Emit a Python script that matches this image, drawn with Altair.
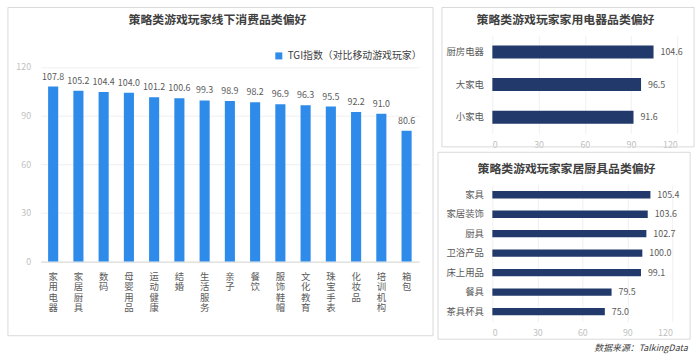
import altair as alt
import pandas as pd

FONT = "Noto Sans CJK SC"

offline_cats = ["家用电器", "家居厨具", "数码", "母婴用品", "运动健康", "结婚", "生活服务", "亲子",
                "餐饮", "服饰鞋帽", "文化教育", "珠宝手表", "化妆品", "培训机构", "箱包"]
offline_vals = [107.8, 105.2, 104.4, 104.0, 101.2, 100.6, 99.3, 98.9, 98.2, 96.9, 96.3, 95.5, 92.2, 91.0, 80.6]
appliance_cats = ["厨房电器", "大家电", "小家电"]
appliance_vals = [104.6, 96.5, 91.6]
home_cats = ["家具", "家居装饰", "厨具", "卫浴产品", "床上用品", "餐具", "茶具杯具"]
home_vals = [105.4, 103.6, 102.7, 100.0, 99.1, 79.5, 75.0]
axis_ticks = [0, 30, 60, 90, 120]

series_name = "TGI指数（对比移动游戏玩家）"
title1 = "策略类游戏玩家线下消费品类偏好"
title2 = "策略类游戏玩家家用电器品类偏好"
title3 = "策略类游戏玩家家居厨具品类偏好"
source = "数据来源：TalkingData"

BLUE = "#2E8BEA"
NAVY = "#22396B"
TXT = "#404040"
CAT = "#595959"
TICK = "#BFBFBF"


def box(x0, x1, y0, y1):
    return alt.Chart(pd.DataFrame({"k": [0]})).mark_rect(
        fillOpacity=0, stroke="#D9D9D9", strokeWidth=1
    ).encode(x=alt.value(x0), x2=alt.value(x1), y=alt.value(y0), y2=alt.value(y1))


def title_text(t, x, y):
    return alt.Chart(pd.DataFrame({"t": [t]})).mark_text(
        fontSize=12, fontWeight="bold", color=TXT, align="center", baseline="middle"
    ).encode(text="t:N", x=alt.value(x), y=alt.value(y))


# ---------- left panel ----------
# plot area starts at the same height as the right-top panel's; the y scale runs a
# little past 120 so that the 120 gridline sits where the reference has it
W1, H1 = 383, 228.5
YMAX1 = 120 * H1 / 197
df1 = pd.DataFrame({"cat": offline_cats, "val": offline_vals, "s": [series_name] * len(offline_cats)})
base1 = alt.Chart(df1).encode(
    x=alt.X("cat:N", sort=offline_cats,
            scale=alt.Scale(paddingInner=0.6, paddingOuter=0.3),
            axis=alt.Axis(title=None, labelAngle=0, labelExpr="split(datum.label, '')",
                          labelBaseline="top", labelAlign="center", labelFontSize=9.5,
                          labelLineHeight=10.5, labelColor=CAT, labelPadding=10, ticks=False,
                          domainColor="#D9D9D9", labelOverlap=False)),
    y=alt.Y("val:Q", scale=alt.Scale(domain=[0, YMAX1], nice=False),
            axis=alt.Axis(title=None, values=axis_ticks, grid=True, gridColor="#F0F0F0",
                          domain=False, ticks=False, labelColor=TICK, labelFontSize=9,
                          labelPadding=10)),
)
bars1 = base1.mark_bar().encode(
    color=alt.Color("s:N", scale=alt.Scale(range=[BLUE]),
                    legend=alt.Legend(title=None, orient="none", legendX=236, legendY=15.5,
                                      symbolType="square", symbolSize=50, labelFontSize=10,
                                      labelColor=TXT, symbolStrokeWidth=0))
)
labels1 = base1.mark_text(dy=-5, baseline="bottom", fontSize=9, color=CAT).encode(
    text=alt.Text("val:Q", format=".1f"))
left = alt.layer(
    box(-33, W1 + 14, -28.5, H1 + 75),
    title_text(title1, 179, -15.5),
    bars1, labels1,
).properties(width=W1, height=H1)


# ---------- right panels ----------
def hbar(cats, vals, W, H, pin, bx0, bx1, by0, by1, tx, ty, title):
    df = pd.DataFrame({"cat": cats, "val": vals})
    base = alt.Chart(df).encode(
        y=alt.Y("cat:N", sort=cats,
                scale=alt.Scale(paddingInner=pin, paddingOuter=pin / 2),
                axis=alt.Axis(title=None, ticks=False, domain=False, labelColor=CAT,
                              labelFontSize=9.5, labelPadding=9)),
        x=alt.X("val:Q", scale=alt.Scale(domain=[0, 120]),
                axis=alt.Axis(title=None, values=axis_ticks, grid=True, gridColor="#F0F0F0",
                              domain=False, ticks=False, labelColor=TICK, labelFontSize=9,
                              labelPadding=7)),
    )
    bars = base.mark_bar(color=NAVY)
    labs = base.mark_text(dx=7, align="left", fontSize=9, color=CAT).encode(
        text=alt.Text("val:Q", format=".1f"))
    return alt.layer(
        box(bx0, bx1, by0, by1), title_text(title, tx, ty), bars, labs
    ).properties(width=W, height=H)


W2, H2 = 187, 99
rt = hbar(appliance_cats, appliance_vals, W2, H2, 0.6, -51, W2 + 17, -28.5, H2 + 13.5, 74, -15.5, title2)
W3, H3 = 182, 138
rb = hbar(home_cats, home_vals, W3, H3, 0.62, -55, W3 + 18, -33, H3 + 18, 75, -16, title3)

chart = alt.hconcat(
    left, alt.vconcat(rt, rb, spacing=2), spacing=3
).properties(
    padding={"left": 7, "top": 5, "right": 5, "bottom": 4},
    title=alt.TitleParams(source, orient="bottom", anchor="end", fontSize=9,
                          fontStyle="italic", fontWeight="normal", color=TXT, offset=4, dx=-7),
).configure(font=FONT).configure_view(stroke=None)

chart.save("out.html", embed_options={"renderer": "svg", "actions": False})
